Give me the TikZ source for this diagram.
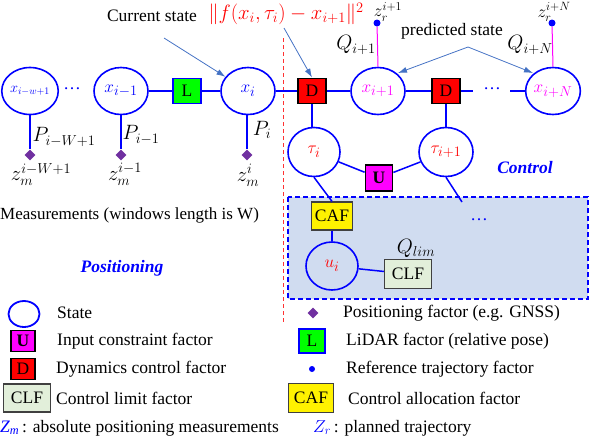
\documentclass[tikz,border=0pt]{standalone}
\usepackage{fontspec}
\setmainfont{Liberation Serif}
\usetikzlibrary{shapes.geometric,arrows.meta}
\definecolor{bl}{RGB}{0,0,255}
\definecolor{arrb}{RGB}{68,114,196}
\definecolor{purp}{RGB}{112,48,160}
\definecolor{mag}{RGB}{255,0,255}
\definecolor{rdash}{RGB}{255,50,50}
\definecolor{boxfill}{RGB}{208,220,240}
\definecolor{clffill}{RGB}{226,239,218}
\definecolor{dgray}{RGB}{64,64,64}
\begin{document}
\begin{tikzpicture}[x=1pt,y=-1pt,font=\fontsize{17.5}{20}\selectfont,
  st/.style={ellipse,draw=bl,line width=1.6pt,minimum width=54pt,minimum height=47pt,inner sep=0pt,font=\fontsize{19}{22}\selectfont},
  mth/.style={font=\fontsize{19.5}{22}\selectfont,inner sep=0pt},
  fac/.style={draw=black,line width=1.8pt,minimum width=28pt,minimum height=25pt,inner sep=0pt},
  ln/.style={bl,line width=1.5pt},
  arr/.style={draw=arrb,line width=0.8pt,-{Latex[length=9pt,width=6pt]}},
  dia/.style={diamond,fill=purp,minimum size=11pt,inner sep=0pt},
  rdot/.style={circle,fill=bl,minimum size=7pt,inner sep=0pt},
  grbox/.style={draw=dgray,line width=1.2pt,inner sep=0pt},
  lbl/.style={anchor=west,inner sep=0pt}
]
\useasboundingbox (0,0) rectangle (590,440);

% control region box
\draw[bl,line width=1.5pt,dash pattern=on 5pt off 3pt,fill=boxfill] (288,197) rectangle (588,299);
% red separator
\coordinate (rt) at (283,38);
\coordinate (rb) at (283,322);
\draw[rdash,line width=1pt,dash pattern=on 4pt off 3pt] (rt) -- (rb);

% states
\node[st,font=\fontsize{14.5}{16}\selectfont] (xw) at (30,91) {\color{bl}$x_{i-w+1}$};
\node[bl] (dots1) at (72,89) {\ldots};
\node[st] (xim) at (121,91) {\color{bl}$x_{i-1}$};
\node[fac,draw=bl,fill=green] (L) at (187,91) {L};
\node[st] (xi) at (248,91) {\color{bl}$x_i$};
\node[fac,fill=red] (D1) at (312,91) {D};
\node[st] (xi1) at (378,91) {\color{mag}$x_{i+1}$};
\node[fac,fill=red] (D2) at (446,91) {D};
\coordinate (c1) at (473,91);
\node[bl] (dots2) at (492,89) {\ldots};
\coordinate (c2) at (510,91);
\node[st,minimum width=52pt] (xN) at (553,91) {\color{mag}$x_{i+N}$};

\draw[ln] (xim) -- (L) -- (xi) -- (D1) -- (xi1) -- (D2) -- (c1);
\draw[ln] (c2) -- (xN);

% measurements
\node[dia] (mw) at (30,155) {};
\node[dia] (m1) at (121,155) {};
\node[dia] (mi) at (247,155) {};
\draw[ln] (xw.south) -- (mw);
\draw[ln] (xim.south) -- (m1);
\draw[ln] (xi.south -| mi) -- (mi);
\node[mth] (Pw) at (64,137) {$P_{i-W+1}$};
\node[mth] (P1) at (141,135) {$P_{i-1}$};
\node[mth] (Pi) at (262,130) {$P_i$};
\node[mth,anchor=north] (zw) at (41,163) {$z_m^{i-W+1}$};
\node[mth,anchor=north] (z1) at (125,163) {$z_m^{i-1}$};
\node[mth,anchor=north] (zi) at (248,164) {$z_m^{i}$};

% annotations
\node (cs) at (152,16) {Current state};
\coordinate (csa) at (164,38);
\draw[arr] (csa) -- (xi);
\node[red,mth] (fm) at (286,14) {$\|f(x_i,\tau_i)-x_{i+1}\|^2$};
\coordinate (fma) at (284,28);
\draw[arr] (fma) -- (D1.north);

% reference trajectory
\node[rdot] (r1) at (377,23) {};
\node[rdot] (rN) at (552,23) {};
\draw[mag,line width=1pt] (r1) -- (xi1.north);
\draw[mag,line width=1pt] (rN) -- (xN.north);
\node[mth,font=\fontsize{18}{20}\selectfont] (zr1) at (388,12) {$z_r^{i+1}$};
\node[mth,font=\fontsize{18}{20}\selectfont] (zrN) at (554,12) {$z_r^{i+N}$};
\node[mth] (Q1) at (356,45) {$Q_{i+1}$};
\node[mth] (QN) at (530,45) {$Q_{i+N}$};
\node (ps) at (452,31) {predicted state};
\coordinate (psa) at (468,47);
\draw[arr] (psa) -- (398,73);
\draw[arr] (psa) -- (533,73);

% control inputs
\node[st,minimum width=52pt,minimum height=49pt] (taui) at (314,152) {\color{red}$\tau_i$};
\node[st,minimum width=54pt,minimum height=49pt] (taui1) at (446,152) {\color{red}$\tau_{i+1}$};
\draw[ln] (D1.south) -- (taui.north -| D1.south);
\draw[ln] (D2.south) -- (taui1.north -| D2.south);
\node[fac,fill=mag,minimum width=27pt,minimum height=26pt] (U) at (379,178) {\textbf{U}};
\draw[ln] (taui) -- (U);
\draw[ln] (taui1) -- (U);
\node[grbox,fill=yellow,minimum width=41pt,minimum height=28pt] (CAF) at (332,216) {CAF};
\draw[ln] (taui.south) -- (CAF.north);
\coordinate (te) at (462,202);
\draw[ln] (taui1.south) -- (te);
\node[bl] (dots3) at (479,220) {\ldots};
\node[st,minimum width=52pt,minimum height=48pt] (ui) at (332,266) {\color{red}$u_i$};
\draw[ln] (CAF.south) -- (ui);
\node[grbox,fill=clffill,minimum width=47pt,minimum height=29pt] (CLF) at (408,274) {CLF};
\draw[ln] (ui) -- (CLF);
\node[mth] (Ql) at (416,248) {$Q_{lim}$};

\node[bl,font=\fontsize{17.5}{20}\selectfont\bfseries\itshape] (ctl) at (525,168) {Control};
\node[bl,font=\fontsize{17.5}{20}\selectfont\bfseries\itshape] (pos) at (122,268) {Positioning};
\node[lbl,font=\fontsize{17}{20}\selectfont] (meas) at (0,215) {Measurements (windows length is W)};

% legend
\node[ellipse,draw=bl,line width=1.8pt,minimum width=31pt,minimum height=26pt,inner sep=0pt] (lst) at (24,314) {};
\node[lbl] (tst) at (57,313) {State};
\node[fac,fill=mag,minimum width=24pt,minimum height=21pt] (lU) at (23,341) {\textbf{U}};
\node[lbl] (tU) at (57,341) {Input constraint factor};
\node[fac,fill=red,minimum width=24pt,minimum height=21pt] (lD) at (23,369) {D};
\node[lbl] (tD) at (56,369) {Dynamics control factor};
\node[grbox,fill=clffill,minimum width=47pt,minimum height=28pt] (lCLF) at (27,398) {CLF};
\node[lbl] (tCLF) at (56,398) {Control limit factor};
\node[lbl] (tZm) at (0,428) {\color{bl}$\mathit{Z_m}$\color{black}\,: absolute positioning measurements};

\node[dia] (ldia) at (313,313) {};
\node[lbl] (tdia) at (343,313) {Positioning factor (e.g. GNSS)};
\node[fac,draw=bl,fill=green,minimum width=26pt,minimum height=24pt] (lL) at (312,341) {L};
\node[lbl] (tL) at (346,341) {LiDAR factor (relative pose)};
\node[rdot,minimum size=6pt] (ldot) at (312,369) {};
\node[lbl] (tdot) at (346,369) {Reference trajectory factor};
\node[grbox,fill=yellow,minimum width=45pt,minimum height=29pt] (lCAF) at (311,398) {CAF};
\node[lbl] (tCAF) at (348,398) {Control allocation factor};
\node[lbl] (tZr) at (313,428) {\color{bl}$Z_r$\color{black}\,: planned trajectory};
\end{tikzpicture}
\end{document}
